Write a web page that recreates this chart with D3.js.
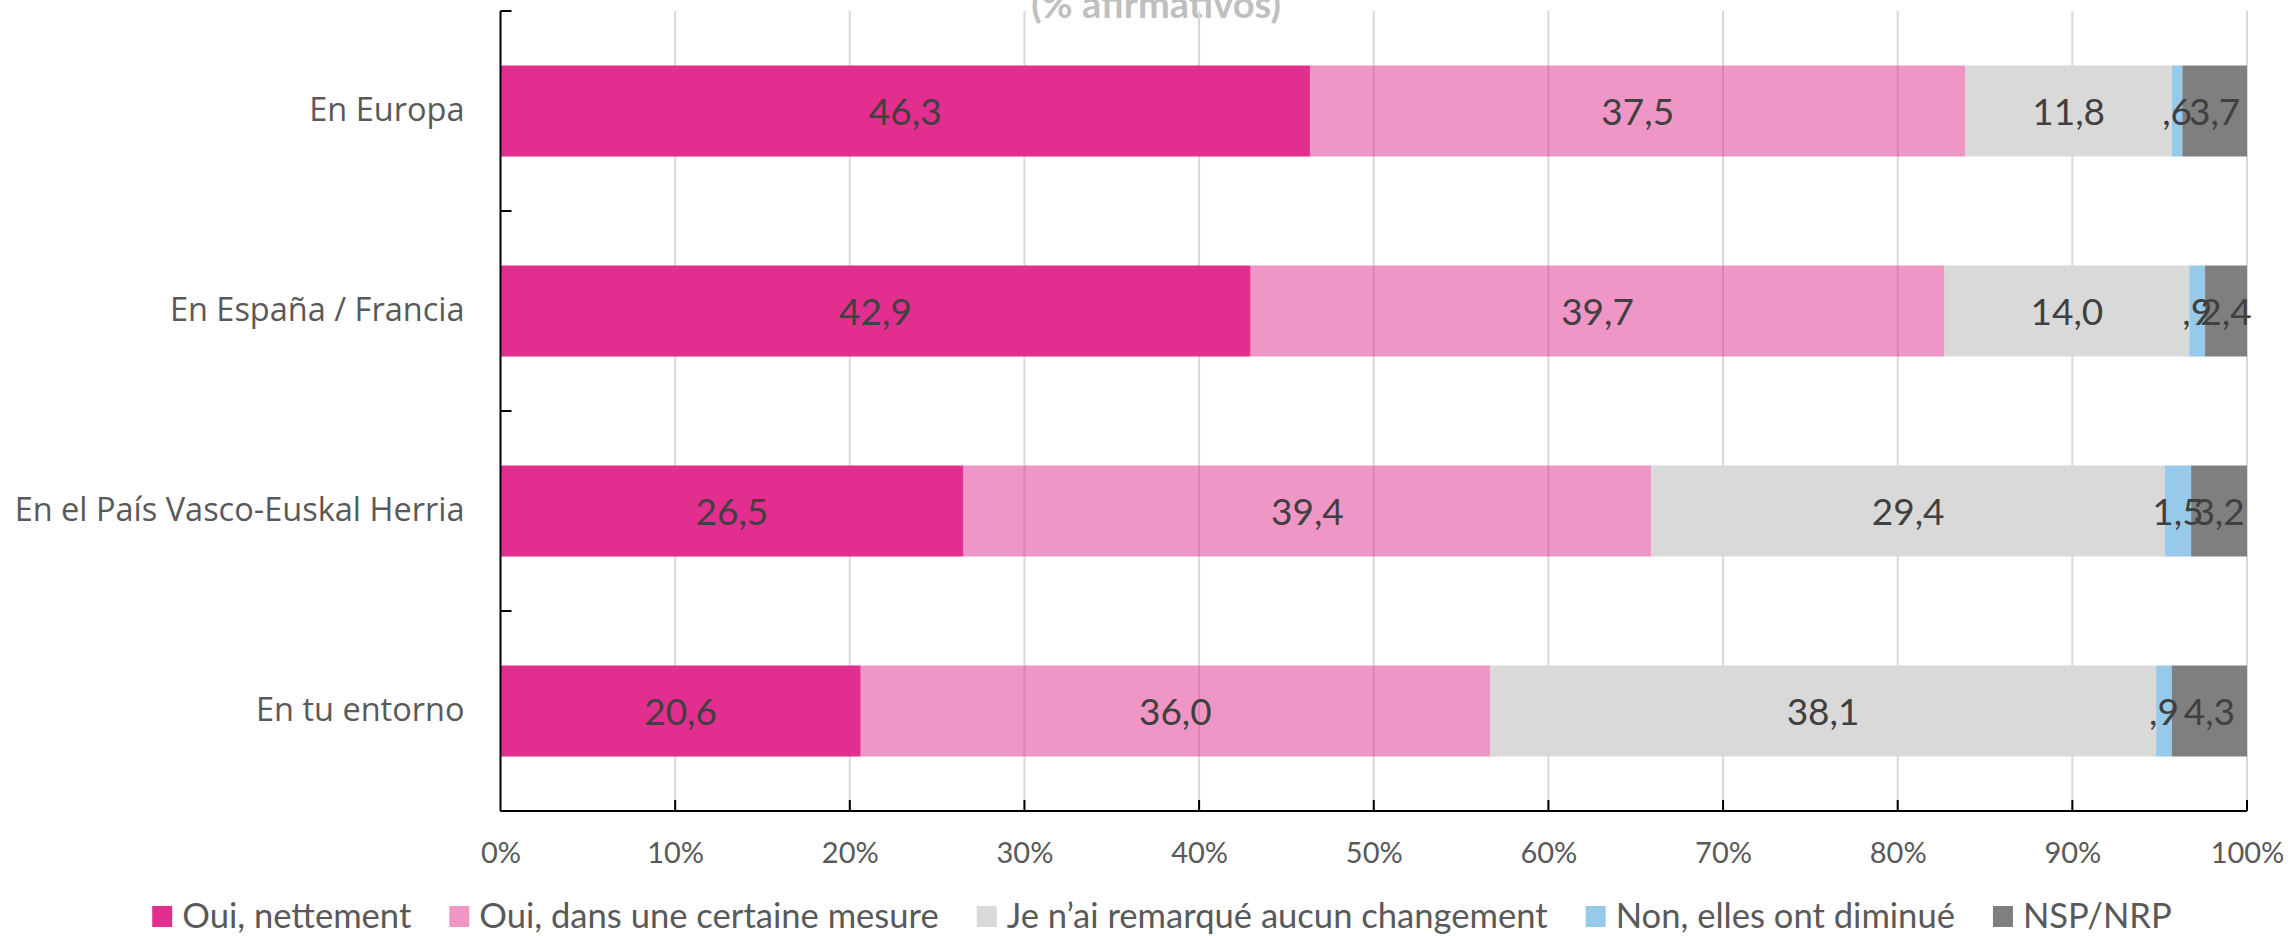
<!DOCTYPE html>
<html>
<head>
<meta charset="utf-8">
<script src="https://cdn.jsdelivr.net/npm/d3@7/dist/d3.min.js"></script>
<style>
  html, body { margin: 0; padding: 0; background: #fff; }
  svg { display: block; }
</style>
</head>
<body>
<svg id="chart" width="2288" height="936"></svg>
<script>
// ---- data ----
const categories = ["En Europa", "En España / Francia", "En el País Vasco-Euskal Herria", "En tu entorno"];
const seriesNames = ["Oui, nettement", "Oui, dans une certaine mesure", "Je n’ai remarqué aucun changement", "Non, elles ont diminué", "NSP/NRP"];
const ouiNettement    = [46.3, 42.9, 26.5, 20.6];
const ouiMesure       = [37.5, 39.7, 39.4, 36.0];
const aucunChangement = [11.8, 14.0, 29.4, 38.1];
const diminue         = [0.6, 0.9, 1.5, 0.9];
const nspNrp          = [3.7, 2.4, 3.2, 4.3];
const xTickValues     = [0, 0.1, 0.2, 0.3, 0.4, 0.5, 0.6, 0.7, 0.8, 0.9, 1.0];
const titleText       = "(% afirmativos)";

// second series is the first colour at half opacity (gridlines show through it)
const seriesColors   = ["#E22E8E", "#E22E8E", "#D9D9D9", "#97CAEA", "#7F7F7F"];
const seriesOpacity  = [1, 0.5, 1, 1, 1];

// table for d3.stack
const seriesArrays = [ouiNettement, ouiMesure, aucunChangement, diminue, nspNrp];
const table = categories.map((c, i) => {
  const row = { cat: c };
  seriesNames.forEach((s, j) => row[s] = seriesArrays[j][i]);
  return row;
});

const svg = d3.select("#chart");
const pL = 500.5, pR = 2247, pT = 11, pB = 811;

const x = d3.scaleLinear().domain([0, 1]).range([pL, pR]);
const y = d3.scaleBand().domain(categories).range([pT, pB]).paddingInner(0.545).paddingOuter(0.2725);

const stacked = d3.stack().keys(seriesNames).offset(d3.stackOffsetExpand)(table);

// title (partially cut off at the top)
svg.append("text")
  .attr("x", 1156).attr("y", 18)
  .attr("text-anchor", "middle")
  .attr("font-family", "Lato, 'Liberation Sans', sans-serif")
  .attr("font-weight", "bold")
  .attr("font-size", 38)
  .attr("fill", "#BFBFBF")
  .text(titleText);

// gridlines
svg.append("g").selectAll("line").data(xTickValues.slice(1)).join("line")
  .attr("x1", d => x(d)).attr("x2", d => x(d))
  .attr("y1", pT).attr("y2", pB)
  .attr("stroke", "#D9D9D9").attr("stroke-width", 2);

// bars
const gBars = svg.append("g");
stacked.forEach((layer, j) => {
  gBars.append("g").attr("fill", seriesColors[j]).attr("fill-opacity", seriesOpacity[j])
    .selectAll("rect").data(layer).join("rect")
    .attr("x", d => x(d[0]))
    .attr("width", d => x(d[1]) - x(d[0]))
    .attr("y", d => y(d.data.cat))
    .attr("height", y.bandwidth());
});

// data labels
const fmt = v => d3.format(".1f")(v).replace(".", ",").replace(/^0/, "");
const gLab = svg.append("g")
  .attr("font-family", "Lato, 'Liberation Sans', sans-serif")
  .attr("font-size", 37)
  .attr("fill", "#404040")
  .attr("text-anchor", "middle");
stacked.forEach((layer, j) => {
  gLab.selectAll(null).data(layer).join("text")
    .attr("x", d => x((d[0] + d[1]) / 2))
    .attr("y", d => y(d.data.cat) + y.bandwidth() / 2 + 13.5)
    .text(d => fmt(d.data[layer.key]));
});

// y axis
const yAxis = d3.axisLeft(y).tickSize(0).tickPadding(36);
const gy = svg.append("g").attr("transform", `translate(${pL},0)`).call(yAxis);
gy.select(".domain").remove();
gy.selectAll("text")
  .attr("font-family", "'Open Sans', sans-serif")
  .attr("font-size", 32.5)
  .attr("fill", "#595959");
svg.append("line").attr("x1", pL).attr("x2", pL).attr("y1", pT).attr("y2", pB)
  .attr("stroke", "#000").attr("stroke-width", 2);
// category boundary ticks
const boundaries = [pT].concat(categories.map(c => y(c) + y.bandwidth() + y.step() * y.paddingInner() / 2));
svg.append("g").selectAll("line").data(boundaries).join("line")
  .attr("x1", pL).attr("x2", pL + 11)
  .attr("y1", d => d).attr("y2", d => d)
  .attr("stroke", "#000").attr("stroke-width", 2);

// x axis
const xAxis = d3.axisBottom(x).tickValues(xTickValues).tickSize(0).tickPadding(0)
  .tickFormat(d3.format(".0%"));
const gx = svg.append("g").attr("transform", `translate(0,${pB})`).call(xAxis);
gx.select(".domain").remove();
gx.selectAll("text")
  .attr("font-family", "Lato, 'Liberation Sans', sans-serif")
  .attr("font-size", 29)
  .attr("fill", "#595959")
  .attr("dy", null)
  .attr("y", 52);
svg.append("line").attr("x1", pL).attr("x2", pR).attr("y1", pB).attr("y2", pB)
  .attr("stroke", "#000").attr("stroke-width", 2);
svg.append("g").selectAll("line").data(xTickValues.slice(1)).join("line")
  .attr("x1", d => x(d)).attr("x2", d => x(d))
  .attr("y1", pB).attr("y2", pB - 11)
  .attr("stroke", "#000").attr("stroke-width", 2);

// legend
const legend = svg.append("g");
const sq = 20, gapSq = 10, gapItem = 38;
let cx = 0;
seriesNames.forEach((s, j) => {
  const g = legend.append("g").attr("transform", `translate(${cx},0)`);
  g.append("rect").attr("x", 0).attr("y", 906).attr("width", sq).attr("height", 21)
    .attr("fill", seriesColors[j]).attr("fill-opacity", seriesOpacity[j]);
  const t = g.append("text").attr("x", sq + gapSq).attr("y", 928)
    .attr("font-family", "Lato, 'Liberation Sans', sans-serif")
    .attr("font-size", 34.6)
    .attr("fill", "#595959")
    .text(s);
  cx += sq + gapSq + t.node().getComputedTextLength() + gapItem;
});
const legendWidth = cx - gapItem;
legend.attr("transform", `translate(${1162 - legendWidth / 2},0)`);
</script>
</body>
</html>
